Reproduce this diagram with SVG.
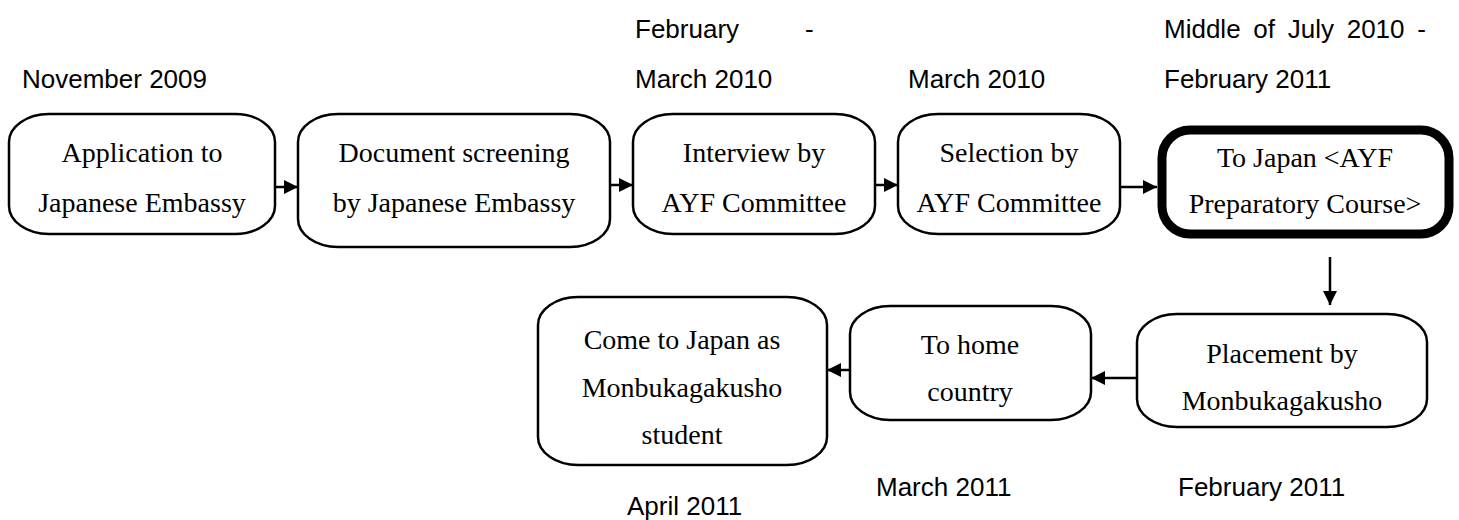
<svg xmlns="http://www.w3.org/2000/svg" width="1459" height="520" viewBox="0 0 1459 520">
<style>
.box{fill:#fff;stroke:#000;stroke-width:2.5}
.thick{fill:#fff;stroke:#000;stroke-width:9}
.t{font-family:"Liberation Serif","Times New Roman",serif;font-size:28px;fill:#000;text-anchor:middle}
.lbl{font-family:"Liberation Sans",Arial,sans-serif;font-size:26px;fill:#000}
.c{stroke:#000;stroke-width:2.5;fill:none}
</style>
<defs>
<marker id="ah" markerUnits="userSpaceOnUse" markerWidth="16" markerHeight="16" refX="14" refY="7" orient="auto">
<path d="M0,0 L14,7 L0,14 Z" fill="#000"/>
</marker>
</defs>
<g id="labels">
<text class="lbl" x="22" y="88">November 2009</text>
<text class="lbl" x="635" y="38">February</text>
<text class="lbl" x="805" y="38">-</text>
<text class="lbl" x="635" y="88">March 2010</text>
<text class="lbl" x="908" y="88">March 2010</text>
<text class="lbl" x="1164" y="38" word-spacing="5.5">Middle of July 2010 -</text>
<text class="lbl" x="1164" y="88">February 2011</text>
<text class="lbl" x="876" y="496">March 2011</text>
<text class="lbl" x="1178" y="496">February 2011</text>
<text class="lbl" x="627" y="515">April 2011</text>
</g>
<g id="n1"><rect class="box" x="9" y="114" width="266" height="120" rx="40" ry="28"/>
<text class="t" x="142" y="162">Application to</text><text class="t" x="142" y="212">Japanese Embassy</text></g>
<g id="n2"><rect class="box" x="298" y="114" width="312" height="133" rx="40" ry="28"/>
<text class="t" x="454" y="162">Document screening</text><text class="t" x="454" y="212">by Japanese Embassy</text></g>
<g id="n3"><rect class="box" x="633" y="114" width="242" height="120" rx="40" ry="28"/>
<text class="t" x="754" y="162">Interview by</text><text class="t" x="754" y="212">AYF Committee</text></g>
<g id="n4"><rect class="box" x="898" y="114" width="222" height="120" rx="40" ry="28"/>
<text class="t" x="1009" y="162">Selection by</text><text class="t" x="1009" y="212">AYF Committee</text></g>
<g id="n5"><rect class="thick" x="1162" y="130" width="287" height="104" rx="28" ry="28"/>
<text class="t" x="1305" y="167">To Japan &lt;AYF</text><text class="t" x="1305" y="213">Preparatory Course&gt;</text></g>
<g id="n6"><rect class="box" x="1137" y="314" width="290" height="113" rx="40" ry="28"/>
<text class="t" x="1282" y="363">Placement by</text><text class="t" x="1282" y="410">Monbukagakusho</text></g>
<g id="n7"><rect class="box" x="850" y="306" width="241" height="114" rx="40" ry="28"/>
<text class="t" x="970" y="354">To home</text><text class="t" x="970" y="401">country</text></g>
<g id="n8"><rect class="box" x="538" y="297" width="289" height="168" rx="40" ry="28"/>
<text class="t" x="682" y="349">Come to Japan as</text><text class="t" x="682" y="397">Monbukagakusho</text><text class="t" x="682" y="444">student</text></g>
<g id="connectors">
<line class="c" x1="275" y1="187" x2="298" y2="187" marker-end="url(#ah)"/>
<line class="c" x1="610" y1="185" x2="633" y2="185" marker-end="url(#ah)"/>
<line class="c" x1="875" y1="185" x2="898" y2="185" marker-end="url(#ah)"/>
<line class="c" x1="1120" y1="187" x2="1157" y2="187" marker-end="url(#ah)"/>
<line class="c" x1="1330" y1="257" x2="1330" y2="305" marker-end="url(#ah)"/>
<line class="c" x1="1137" y1="378" x2="1091" y2="378" marker-end="url(#ah)"/>
<line class="c" x1="850" y1="370" x2="827" y2="370" marker-end="url(#ah)"/>
</g>
</svg>
